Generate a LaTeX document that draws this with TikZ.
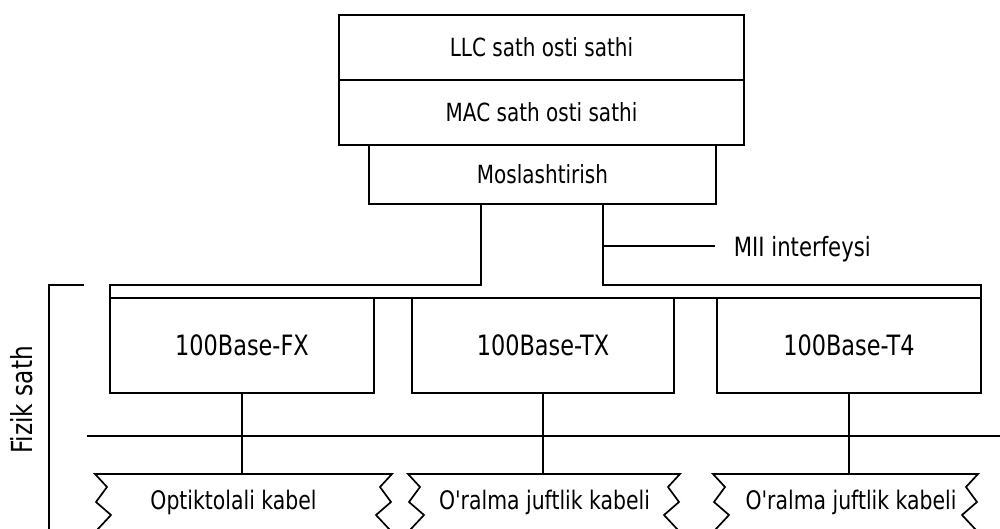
\documentclass[tikz,border=0pt]{standalone}
\usepackage{fontspec}
\setmainfont{DejaVu Sans}[FakeStretch=0.8,Ligatures=TeXOff]

% zig-zag outline of a cable segment: #1 = left x, #2 = right x
\newcommand\cableoutline[2]{%
  \draw[line join=miter]
    (#1+12,545) -- (#1+2,530) -- (#1+16,515) -- (#1+1,502) -- (#1+12,487) -- (#1,474)
    -- (#2,474)
    -- (#2-12,487) -- (#2-1,502) -- (#2-16,515) -- (#2-2,530) -- (#2-12,545);
}

\begin{document}
\begin{tikzpicture}[x=1pt,y=-1pt,line width=1.7pt,
  blk/.style={draw,rectangle,inner sep=0pt,outer sep=0pt,
              font=\fontsize{25}{29}\selectfont},
  phy/.style={draw,rectangle,inner sep=0pt,outer sep=0pt,
              minimum height=95pt,font=\fontsize{28}{32}\selectfont},
  cable/.style={rectangle,inner sep=0pt,outer sep=0pt,minimum height=55pt},
  cabtext/.style={inner sep=0pt,font=\fontsize{25.5}{29}\selectfont},
  lbl/.style={inner sep=0pt,font=\fontsize{26.5}{30}\selectfont}]

\useasboundingbox (0,0) rectangle (1000,529);
\clip (0,0) rectangle (1000,529);

% upper sublayers
\node[blk,minimum width=405pt,minimum height=65pt] (llc) at (541.5,47.5) {LLC sath osti sathi};
\node[blk,minimum width=405pt,minimum height=65pt] (mac) at (541.5,112.5) {MAC sath osti sathi};
\node[blk,minimum width=347pt,minimum height=59pt] (mos) at (542.5,174.5) {Moslashtirish};

% physical layer variants
\node[phy,minimum width=264pt] (fx) at (242,345.5) {100Base-FX};
\node[phy,minimum width=262pt] (tx) at (543,345.5) {100Base-TX};
\node[phy,minimum width=264pt] (t4) at (849,345.5) {100Base-T4};

% MII bus between the reconciliation layer and the PHYs
\coordinate (m1) at (481,204);
\coordinate (m2) at (603,204);
\draw (m1) -- (481,285) -- (110,285) -- (fx.north west);
\draw (m2) -- (603,285) -- (981,285) -- (t4.north east);
\draw (fx.north west) -- (t4.north east);

% MII label
\coordinate (mii) at (603,246);
\node[lbl,anchor=west] (miilbl) at (733,249) {MII interfeysi};
\draw (mii) -- ([xshift=-18pt]miilbl.west |- mii);

% medium-dependent interface line
\coordinate (mdiL) at (87,436);
\coordinate (mdiR) at (1000,436);
\draw (mdiL) -- (mdiR);

% cable segments
\node[cable,minimum width=297pt] (c1) at (243.5,501.5) {};
\node[cable,minimum width=272pt] (c2) at (544,501.5) {};
\node[cable,minimum width=265pt] (c3) at (845.5,501.5) {};
\cableoutline{95}{392}
\cableoutline{408}{680}
\cableoutline{713}{978}
\node[cabtext] (t1) at (233.5,502) {Optiktolali kabel};
\node[cabtext] (t2) at (544.5,502) {O'ralma juftlik kabeli};
\node[cabtext] (t3) at (851,502) {O'ralma juftlik kabeli};

% PHY to cable connectors
\draw (fx.south) -- (fx.south |- c1.north);
\draw (tx.south) -- (tx.south |- c2.north);
\draw (t4.south) -- (t4.south |- c3.north);

% physical layer bracket
\coordinate (brT) at (84,285);
\draw (brT) -- (49,285) -- (49,535);
\node[rotate=90,inner sep=0pt,font=\fontsize{29}{32}\selectfont] (fiz) at (22,400) {Fizik sath};

\end{tikzpicture}
\end{document}
